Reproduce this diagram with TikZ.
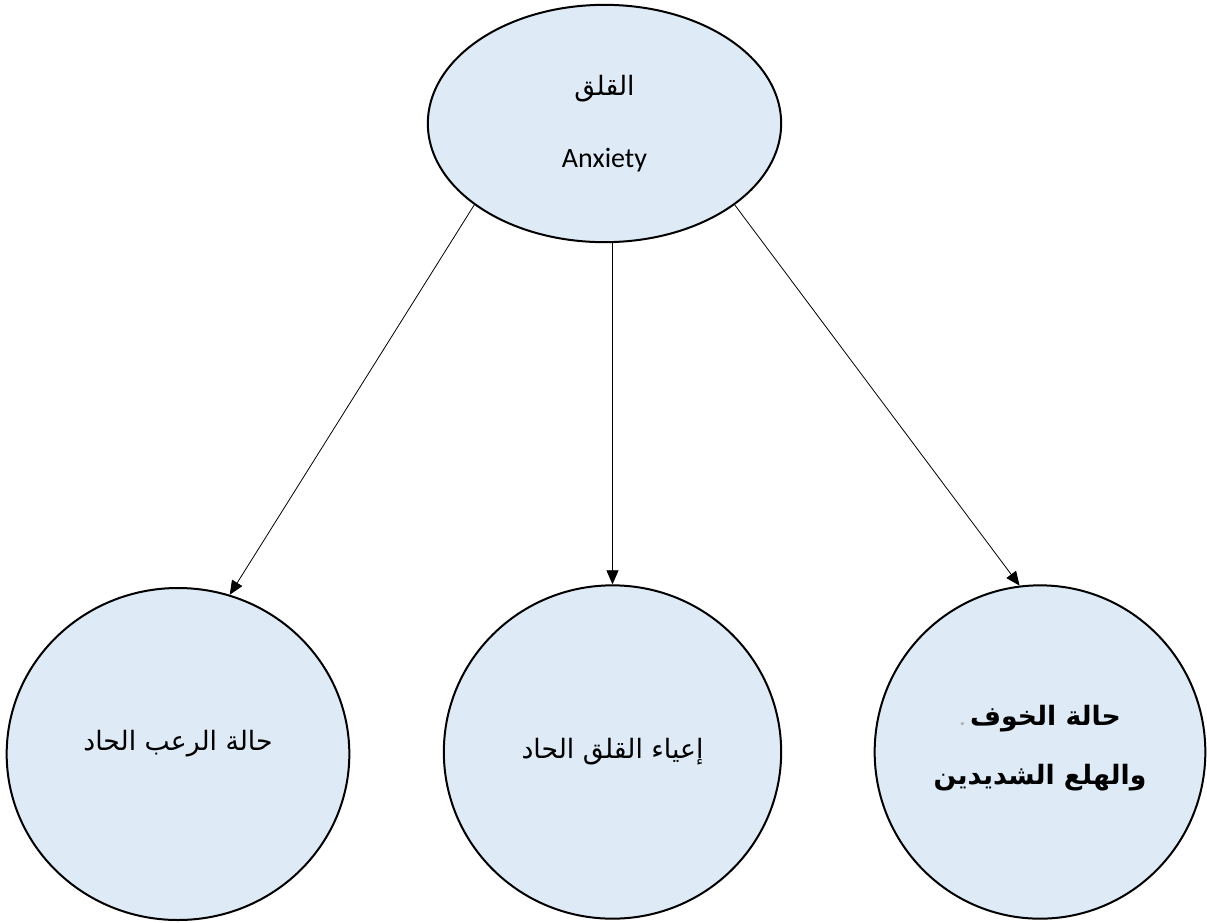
\documentclass[tikz,border=0pt]{standalone}
\usepackage{fontspec}
\setmainfont{Carlito}
\newfontfamily\arabicfont[Script=Arabic]{DejaVu Sans}
\TeXXeTstate=1
\usetikzlibrary{arrows.meta,shapes.geometric}
\definecolor{anxedge}{RGB}{0,0,0}
\definecolor{anxfill}{RGB}{222,234,246}
\tikzset{
  anxbox/.style={
    ellipse, draw=anxedge, fill=anxfill, line width=1.5pt,
    align=center, inner sep=0pt, font=\fontsize{20}{24}\selectfont
  },
  topbox/.style={anxbox, minimum width=265pt, minimum height=178pt},
  kindbox/.style={anxbox, minimum width=253pt, minimum height=250pt},
  arr/.style={-{Triangle[length=10.5pt,width=9pt]}, draw=anxedge, line width=0.6pt}
}
\begin{document}
\begin{tikzpicture}[x=0.75pt, y=-0.75pt]
  \useasboundingbox (0,0) rectangle (1207,922);
  % main concept
  \node[topbox] (anx) at (604.5,123.5)
    {{\arabicfont\beginR القلق\endR}\\[30pt] {\fontsize{21}{24}\selectfont Anxiety}};
  % three kinds
  \node[kindbox, minimum width=257pt, minimum height=249pt] (terror) at (178,754)
    {\arabicfont\beginR حالة الرعب الحاد\endR\\[-3pt]\mbox{}};
  \node[kindbox] (exhaust) at (612.5,752)
    {\arabicfont\beginR إعياء القلق الحاد\endR};
  \node[kindbox, minimum width=248pt] (panic) at (1040,752)
    {{\color{black!30}.}\,{\arabicfont\bfseries\beginR حالة الخوف\endR}\\[20pt]
     {\arabicfont\bfseries\beginR والهلع الشديدين\endR}\\[-13.5pt]\mbox{}};
  % arrows
  \draw[arr] (anx.212) -- (terror.72);
  \draw[arr] (exhaust.north |- anx.south) -- (exhaust.north);
  \draw[arr] (anx.328) -- (panic.97);
\end{tikzpicture}
\end{document}
